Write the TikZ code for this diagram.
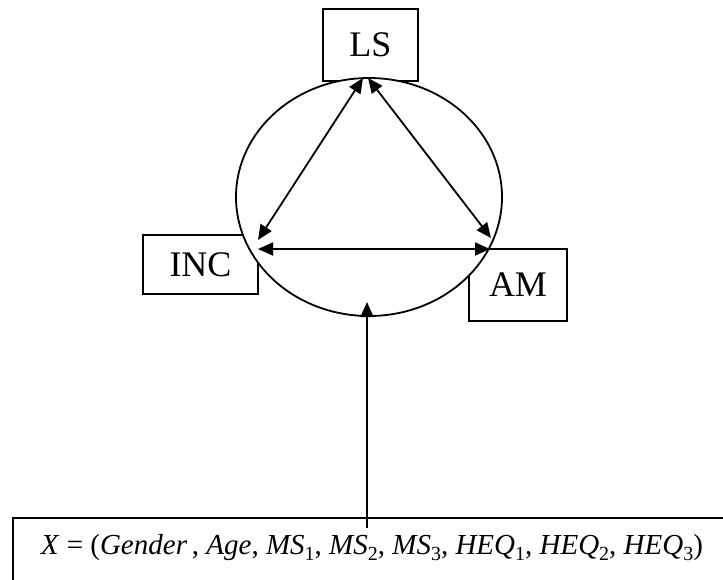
\documentclass[tikz,border=0pt]{standalone}
\usepackage{fontspec}
\setmainfont{Liberation Serif}
\usetikzlibrary{shapes.geometric,arrows.meta,positioning,calc}
\newcommand{\lowsub}[1]{\raisebox{-0.4ex}{\fontsize{20}{20}\selectfont #1}}

\begin{document}
\begin{tikzpicture}[x=1pt,y=-1pt,line width=1.8pt,>={Triangle[length=15pt,width=13pt]},
  varbox/.style={draw,line width=1.5pt,inner sep=0pt,font=\fontsize{36}{40}\selectfont}]
\useasboundingbox (0,0) rectangle (723,579);
\clip (0,0) rectangle (723,579);
\node[varbox,minimum width=95pt,minimum height=72pt] (LS) at (370.5,45) {LS};
\node[varbox,minimum width=115pt,minimum height=59pt] (INC) at (200.5,264.5) {INC};
\node[varbox,minimum width=98pt,minimum height=72pt] (AM) at (518,285) {AM};
\node[draw,ellipse,fill=white,inner sep=0pt,minimum width=266pt,minimum height=238pt] (ring) at (369,197) {};
\node[draw,line width=1.5pt,anchor=north west,minimum width=740pt,minimum height=100pt] (xbox) at (12,517) {};
\node[anchor=west,inner sep=0pt,font=\fontsize{29}{32}\selectfont] (xvec) at (40,548)
  {\textit{X} = (\textit{Gender}\,, \textit{Age}, \textit{MS}\lowsub{1}, \textit{MS}\lowsub{2}, \textit{MS}\lowsub{3}, \textit{HEQ}\lowsub{1}, \textit{HEQ}\lowsub{2}, \textit{HEQ}\lowsub{3})};
\coordinate (lsL) at (363,78);
\coordinate (lsR) at (368,78);
\coordinate (incT) at (258,240);
\coordinate (amT) at (491,238);
\coordinate (incR) at (258,249);
\coordinate (amL) at (490,249);
\coordinate (ringB) at (367,302);
\coordinate (xtail) at (367,528);
\draw[<->] (lsL) -- (incT);
\draw[<->] (lsR) -- (amT);
\draw[<->] (incR) -- (amL);
\draw[->] (xtail) -- (ringB);
\end{tikzpicture}
\end{document}
